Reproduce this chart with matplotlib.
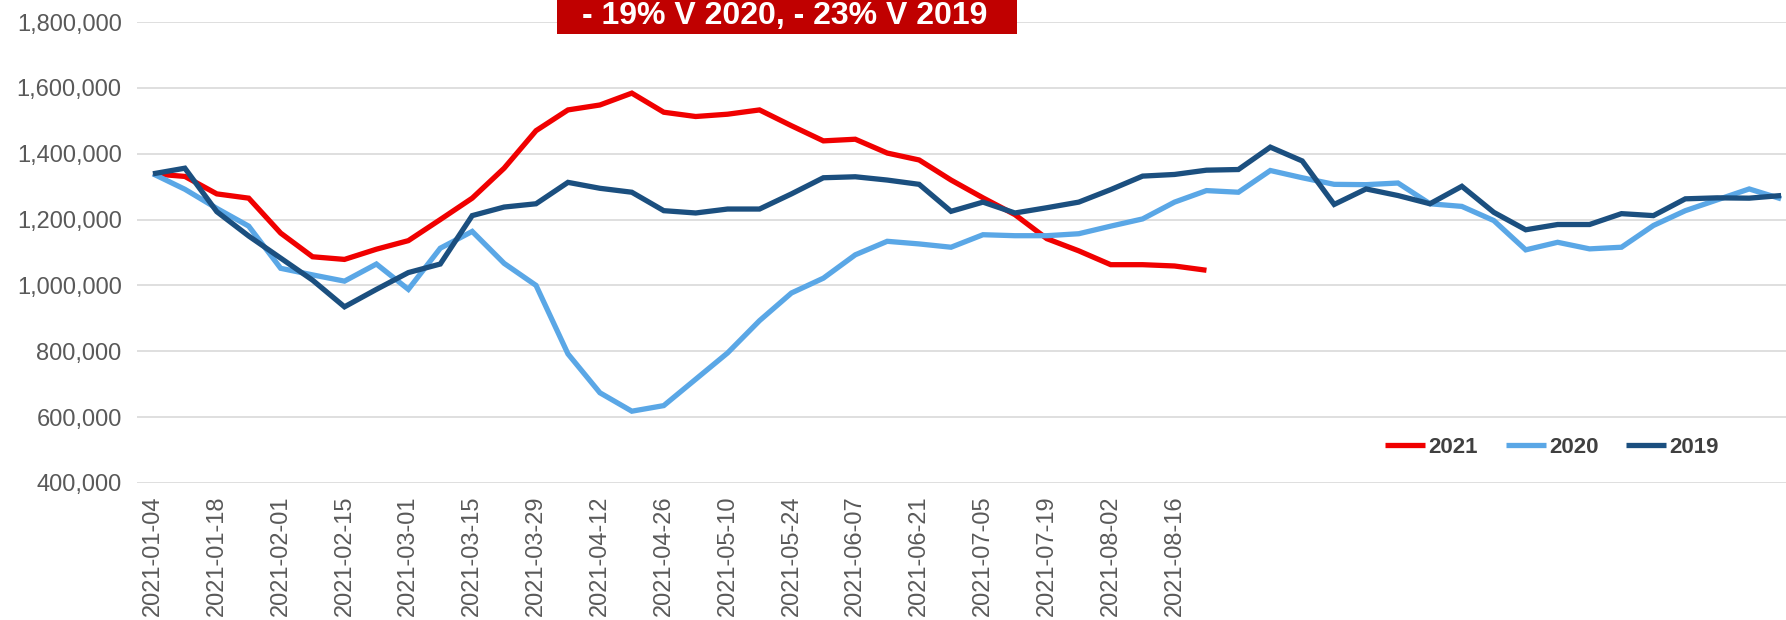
import numpy as np
import matplotlib
matplotlib.use("Agg")
import matplotlib.pyplot as plt
import matplotlib.ticker as mtick
from matplotlib.patches import Rectangle

plt.rcParams['font.family'] = ['Liberation Sans', 'DejaVu Sans']

# _______________________ datos (semanas desde 2021-01-04) _______________________

tick_labels = ['2021-01-04', '2021-01-18', '2021-02-01', '2021-02-15', '2021-03-01',
               '2021-03-15', '2021-03-29', '2021-04-12', '2021-04-26', '2021-05-10',
               '2021-05-24', '2021-06-07', '2021-06-21', '2021-07-05', '2021-07-19',
               '2021-08-02', '2021-08-16']

serie_2021 = [1339, 1331, 1278, 1265, 1159, 1087, 1079, 1110, 1136, 1200,
              1265, 1356, 1470, 1533, 1548, 1584, 1526, 1513, 1520, 1533,
              1485, 1439, 1444, 1402, 1381, 1320, 1266, 1215, 1142, 1105,
              1063, 1063, 1059, 1046]

serie_2020 = [1339, 1292, 1234, 1180, 1052, 1032, 1013, 1065, 988, 1113,
              1164, 1067, 1000, 792, 674, 618, 635, 715, 795, 893,
              977, 1022, 1093, 1134, 1126, 1116, 1154, 1151, 1151, 1157,
              1180, 1202, 1253, 1288, 1283, 1349, 1327, 1307, 1306, 1311,
              1248, 1240, 1197, 1108, 1131, 1111, 1116, 1182, 1227, 1260,
              1293, 1263]

serie_2019 = [1339, 1356, 1224, 1150, 1083, 1016, 935, 988, 1039, 1065,
              1212, 1238, 1248, 1313, 1295, 1283, 1227, 1220, 1232, 1232,
              1278, 1327, 1330, 1320, 1307, 1225, 1253, 1220, 1236, 1253,
              1291, 1332, 1337, 1350, 1352, 1420, 1378, 1246, 1293, 1273,
              1248, 1301, 1222, 1169, 1185, 1185, 1218, 1212, 1263, 1266,
              1265, 1273]

titulo = '- 19% V 2020, - 23% V 2019'

# _______________________ grafica _______________________

fig = plt.figure(figsize=(17.86, 6.2), dpi=100)
ax = fig.add_axes([0.0767, 0.221, 0.9295, 0.7435])

series = [('2021', serie_2021, '#F00000'),
          ('2020', serie_2020, '#5AA7E6'),
          ('2019', serie_2019, '#1B4F7F')]

for nombre, valores, color in series:
    x = np.arange(len(valores))
    ax.plot(x, np.array(valores) * 1000, color=color, lw=3.8, label=nombre,
            solid_joinstyle='miter', solid_capstyle='butt')

ax.set_xlim(-0.5, 51.5)
ax.set_ylim(400000, 1800000)
ax.set_yticks(np.arange(400000, 1800001, 200000))
ax.yaxis.set_major_formatter(mtick.StrMethodFormatter('{x:,.0f}'))
ax.set_xticks(np.arange(0, 2 * len(tick_labels), 2))
ax.set_xticklabels(tick_labels, rotation=90)

ax.grid(axis='y', color='#D9D9D9', lw=1.2)
ax.set_axisbelow(True)
for s in ax.spines.values():
    s.set_visible(False)
ax.tick_params(axis='both', length=0, labelsize=17, colors='#595959')
ax.tick_params(axis='y', pad=11)
ax.tick_params(axis='x', pad=9)

leg = ax.legend(loc='center', bbox_to_anchor=(0.869, 0.2790), bbox_transform=fig.transFigure,
                ncol=3, frameon=False, handlelength=1.8, handletextpad=0.15,
                columnspacing=1.25, prop={'weight': 'bold', 'size': 16})
for t in leg.get_texts():
    t.set_color('#404040')

# recuadro rojo con el titulo
fig.patches.append(Rectangle((0.3119, 0.9452), 0.2575, 0.1, transform=fig.transFigure,
                             facecolor='#C00000', edgecolor='none', zorder=5))
fig.text(0.4395, 0.9605, titulo, ha='center', va='baseline', color='white',
         fontsize=23, fontweight='bold', zorder=6)

fig.savefig('out.png', dpi=100)
